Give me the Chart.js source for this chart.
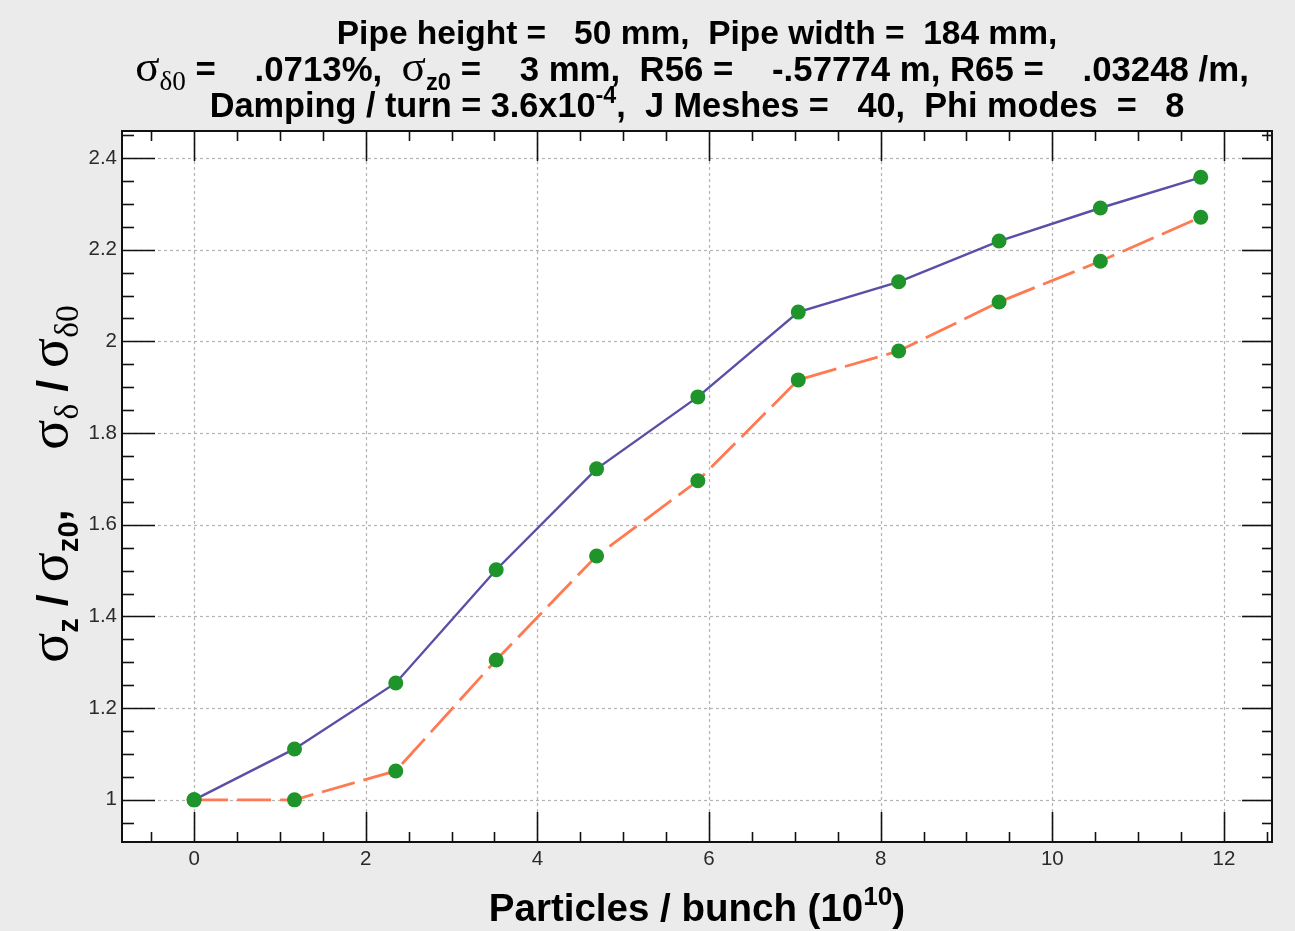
<!DOCTYPE html>
<html>
<head>
<meta charset="utf-8">
<script src="https://cdn.jsdelivr.net/npm/chart.js@4.4.0/dist/chart.umd.min.js"></script>
<style>
  html, body { margin: 0; padding: 0; background: #ebebeb; }
  canvas { display: block; }
</style>
</head>
<body>
<canvas id="c" width="1295" height="931"></canvas>
<script>
// Bunch intensity (10^10 particles per bunch)
const particles = [0, 1.17, 2.35, 3.52, 4.69, 5.87, 7.04, 8.21, 9.38, 10.56, 11.73];
// Normalised bunch length  sigma_z / sigma_z0
const sigmaZRatio = [1.00, 1.111, 1.255, 1.502, 1.722, 1.879, 2.064, 2.130, 2.219, 2.291, 2.358];
// Normalised energy spread  sigma_delta / sigma_delta0
const sigmaDeltaRatio = [1.00, 1.00, 1.063, 1.305, 1.532, 1.696, 1.916, 1.979, 2.086, 2.175, 2.271];
// Axis ticks
const xTicks = [0, 2, 4, 6, 8, 10, 12];
const yTicks = [1, 1.2, 1.4, 1.6, 1.8, 2, 2.2, 2.4];
const xMinorStep = 0.5;
const yMinorStep = 0.05;

const SANS = '"Liberation Sans", Arial, Helvetica, sans-serif';
const SERIF = '"Liberation Serif", "DejaVu Serif", serif';

// Rich text: segments with weight / family / size factor / sub- or superscript
function richFont(seg, size) {
  let s = seg.s === 'sub' || seg.s === 'sup' ? size * 0.68 : size;
  if (seg.k) s *= seg.k;
  return (seg.b ? 'bold ' : '') + s.toFixed(1) + 'px ' + (seg.serif ? SERIF : SANS);
}
function richWidth(ctx, segs, size) {
  let w = 0;
  for (const seg of segs) { ctx.font = richFont(seg, size); w += ctx.measureText(seg.t).width; }
  return w;
}
function drawRich(ctx, segs, cx, y, size) {
  const w = richWidth(ctx, segs, size);
  ctx.save();
  ctx.translate(cx, y);
  let x = -w / 2;
  ctx.textBaseline = 'alphabetic';
  ctx.textAlign = 'left';
  for (const seg of segs) {
    ctx.font = richFont(seg, size);
    let dy = 0;
    if (seg.s === 'sub') dy = size * 0.26;
    if (seg.s === 'sup') dy = -size * 0.42;
    ctx.fillText(seg.t, x, dy);
    x += ctx.measureText(seg.t).width;
  }
  ctx.restore();
}

const SIG = {t: 'σ', serif: true, k: 1.3};
const titleLines = [
  [{t: 'Pipe height =   50 mm,  Pipe width =  184 mm,', b: true}],
  [
    SIG, {t: 'δ0', serif: true, s: 'sub', k: 1.15},
    {t: ' =    .0713%,  ', b: true},
    SIG, {t: 'z0', b: true, s: 'sub'},
    {t: ' =    3 mm,  R56 =    -.57774 m, R65 =    .03248 /m,', b: true}
  ],
  [
    {t: 'Damping / turn = 3.6x10', b: true}, {t: '-4', b: true, s: 'sup'},
    {t: ',  J Meshes =   40,  Phi modes  =   8', b: true}
  ]
];
const yTitle = [
  SIG, {t: 'z', b: true, s: 'sub'},
  {t: ' / ', b: true},
  SIG, {t: 'z0', b: true, s: 'sub'},
  {t: ',     ', b: true},
  SIG, {t: 'δ', serif: true, s: 'sub', k: 1.15},
  {t: ' / ', b: true},
  SIG, {t: 'δ0', serif: true, s: 'sub', k: 1.15}
];
const xTitle = [
  {t: 'Particles / bunch (10', b: true}, {t: '10', b: true, s: 'sup'}, {t: ')', b: true}
];

const framePlugin = {
  id: 'frame',
  beforeDraw(chart) {
    const {ctx, chartArea: a} = chart;
    ctx.save();
    ctx.fillStyle = '#ebebeb';
    ctx.fillRect(0, 0, chart.width, chart.height);
    ctx.fillStyle = '#ffffff';
    ctx.fillRect(a.left, a.top, a.right - a.left, a.bottom - a.top);
    ctx.restore();
  },
  beforeDatasetsDraw(chart) {
    const {ctx, chartArea: a, scales: {x, y}} = chart;
    ctx.save();
    ctx.strokeStyle = '#b4b4b4';
    ctx.lineWidth = 1.2;
    ctx.setLineDash([3, 3]);
    for (const v of xTicks) {
      const px = Math.round(x.getPixelForValue(v)) + 0.5;
      ctx.beginPath(); ctx.moveTo(px, a.top); ctx.lineTo(px, a.bottom); ctx.stroke();
    }
    for (const v of yTicks) {
      const py = Math.round(y.getPixelForValue(v)) + 0.5;
      ctx.beginPath(); ctx.moveTo(a.left, py); ctx.lineTo(a.right, py); ctx.stroke();
    }
    ctx.restore();
  },
  afterDatasetsDraw(chart) {
    const {ctx, chartArea: a, scales: {x, y}} = chart;
    ctx.save();
    ctx.strokeStyle = '#111';
    ctx.lineWidth = 1.6;
    ctx.setLineDash([]);
    const line = (x1, y1, x2, y2) => { ctx.beginPath(); ctx.moveTo(x1, y1); ctx.lineTo(x2, y2); ctx.stroke(); };
    // x ticks (inward, bottom and top)
    for (let v = Math.ceil(x.min / xMinorStep) * xMinorStep; v <= x.max + 1e-9; v += xMinorStep) {
      const major = xTicks.some(t => Math.abs(t - v) < 1e-6);
      const len = major ? 30 : 10;
      const px = Math.round(x.getPixelForValue(v)) + 0.5;
      line(px, a.bottom, px, a.bottom - len);
      line(px, a.top, px, a.top + len);
    }
    // y ticks (inward, left and right)
    for (let v = Math.ceil(y.min / yMinorStep) * yMinorStep; v <= y.max + 1e-9; v += yMinorStep) {
      const major = yTicks.some(t => Math.abs(t - v) < 1e-6);
      const py = Math.round(y.getPixelForValue(v)) + 0.5;
      line(a.left, py, a.left + (major ? 33 : 12), py);
      line(a.right, py, a.right - (major ? 30 : 10), py);
    }
    ctx.lineWidth = 2;
    ctx.strokeRect(a.left, a.top, a.right - a.left, a.bottom - a.top);

    // tick labels
    ctx.fillStyle = '#2a2a2a';
    ctx.font = '20.5px ' + SANS;
    ctx.textAlign = 'center';
    ctx.textBaseline = 'top';
    for (const v of xTicks) ctx.fillText(String(v), x.getPixelForValue(v), a.bottom + 7);
    ctx.textAlign = 'right';
    ctx.textBaseline = 'middle';
    for (const v of yTicks) ctx.fillText(String(v), a.left - 5, y.getPixelForValue(v));

    // titles
    ctx.fillStyle = '#000';
    drawRich(ctx, titleLines[0], 697, 44, 33.5);
    drawRich(ctx, titleLines[1], 692, 81, 34.8);
    drawRich(ctx, titleLines[2], 697, 117, 34.3);
    drawRich(ctx, xTitle, 697, 921, 38.5);
    ctx.save();
    ctx.translate(67, 484);
    ctx.rotate(-Math.PI / 2);
    drawRich(ctx, yTitle, 0, 0, 43);
    ctx.restore();
    ctx.restore();
  }
};

const toPoints = ys => particles.map((p, i) => ({x: p, y: ys[i]}));
const markerStyle = {
  pointRadius: 7.5,
  pointBackgroundColor: '#1f942a',
  pointBorderColor: '#1f942a',
  pointBorderWidth: 0,
  tension: 0,
  fill: false
};

new Chart(document.getElementById('c'), {
  type: 'line',
  data: {
    datasets: [
      Object.assign({label: 'sigma_z / sigma_z0', data: toPoints(sigmaZRatio),
        borderColor: '#5a4fa6', borderWidth: 2.4}, markerStyle),
      Object.assign({label: 'sigma_delta / sigma_delta0', data: toPoints(sigmaDeltaRatio),
        borderColor: '#ff7a52', borderWidth: 2.8, borderDash: [34, 9]}, markerStyle)
    ]
  },
  options: {
    responsive: false,
    devicePixelRatio: 1,
    animation: false,
    layout: {padding: {left: 122, right: 23, top: 131, bottom: 89}},
    plugins: {legend: {display: false}, tooltip: {enabled: false}, title: {display: false}},
    scales: {
      x: {type: 'linear', min: -0.84, max: 12.56, display: false},
      y: {type: 'linear', min: 0.908, max: 2.459, display: false}
    }
  },
  plugins: [framePlugin]
});
</script>
</body>
</html>
